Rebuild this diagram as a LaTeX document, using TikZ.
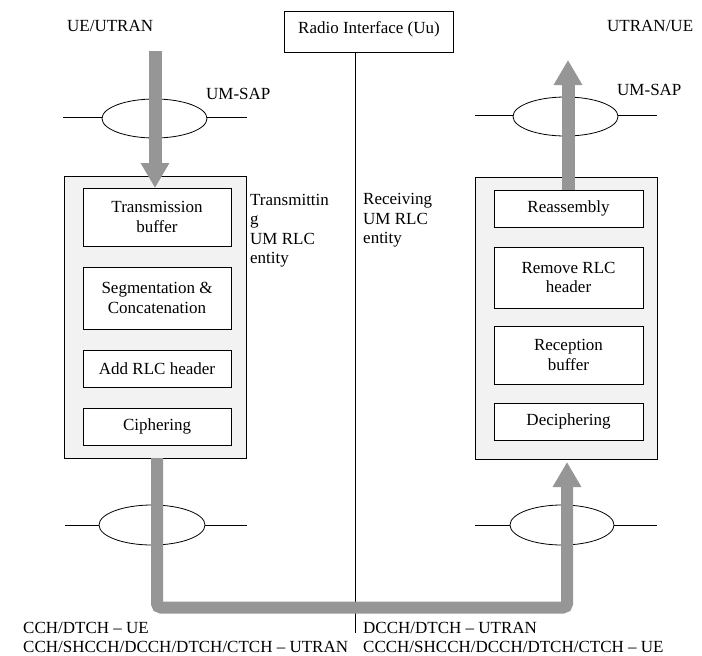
\documentclass[tikz,border=0pt]{standalone}
\usepackage{fontspec}
\setmainfont{Liberation Serif}
\usetikzlibrary{arrows.meta,shapes.geometric}
\definecolor{flow}{RGB}{150,150,150}
\definecolor{entfill}{RGB}{242,242,242}
\begin{document}
\begin{tikzpicture}[x=1pt,y=-1pt,
  every node/.style={font=\fontsize{17}{19.5}\selectfont, inner sep=0pt},
  lbl/.style={anchor=base west},
  entity/.style={draw, line width=0.8pt, fill=entfill, minimum width=182pt, minimum height=282pt},
  funbox/.style={draw, line width=0.8pt, fill=white, align=center, minimum width=148pt},
  sap/.style={draw, ellipse, line width=0.8pt, minimum width=105pt, minimum height=39pt},
  sapline/.style={line width=0.8pt},
  flowarrow/.style={draw=flow, line width=13pt, -{Triangle[width=27pt,length=25pt]}},
  flowpath/.style={draw=flow, line width=12pt, rounded corners=4pt, -{Triangle[width=27pt,length=25pt]}}
]
\useasboundingbox (0,0) rectangle (702,656);

% radio interface
\node[draw, line width=0.8pt, minimum width=169pt, minimum height=41pt] (radio) at (368.5,31.5) {};
\node[lbl] (radiotxt) at (298,33.3) {Radio Interface (Uu)};
\coordinate (uutop) at (355,52);
\coordinate (uubot) at (355,633);
\draw[line width=0.6pt] (uutop) -- (uubot);

% top labels
\node[lbl] (ueutran) at (67,31.7) {UE/UTRAN};
\node[lbl] (utranue) at (607,31.7) {UTRAN/UE};
\node[lbl] (sapL) at (206,99) {UM-SAP};
\node[lbl] (sapR) at (617,95) {UM-SAP};

% SAP ellipses
\coordinate (l1a) at (63,117); \coordinate (l1b) at (247,117);
\coordinate (r1a) at (475,115); \coordinate (r1b) at (657,115);
\coordinate (l2a) at (65,525.7); \coordinate (l2b) at (247,525.7);
\coordinate (r2a) at (475,525.7); \coordinate (r2b) at (657,525.7);
\draw[sapline] (l1a) -- (l1b);
\draw[sapline] (r1a) -- (r1b);
\draw[sapline] (l2a) -- (l2b);
\draw[sapline] (r2a) -- (r2b);
\node[sap, fill=white] (sapTL) at (154.5,118.5) {};
\node[sap, fill=white] (sapTR) at (565.5,116.5) {};
\node[sap, fill=white, minimum width=106pt, minimum height=40pt] (sapBL) at (152,525) {};
\node[sap, fill=white, minimum width=104pt, minimum height=40pt] (sapBR) at (562,525) {};

% entities
\node[entity] (tx) at (155,317) {};
\node[entity] (rx) at (566,318) {};

\node[funbox, minimum height=58pt] (tb) at (157,217) {Transmission\\buffer};
\node[funbox, minimum height=62pt] (seg) at (157,298) {Segmentation \&\\Concatenation};
\node[funbox, minimum height=37pt] (add) at (157,368.5) {Add RLC header};
\node[funbox, minimum height=37pt] (ciph) at (157,426.5) {Ciphering};

\node[funbox, minimum width=149pt, minimum height=37pt] (reas) at (568.5,208.5) {Reassembly};
\node[funbox, minimum width=149pt, minimum height=61pt] (rem) at (568.5,277.5) {Remove RLC\\header};
\node[funbox, minimum width=149pt, minimum height=58pt] (recp) at (568.5,355) {Reception\\buffer};
\node[funbox, minimum width=149pt, minimum height=37pt] (deci) at (568.5,421.5) {Deciphering};

\node[anchor=north west, align=left] (txlbl) at (250,194) {Transmittin\\g\\UM RLC\\entity};
\node[anchor=north west, align=left] (rxlbl) at (363,193.5) {Receiving\\UM RLC\\entity};

% flow arrows
\coordinate (inL) at (155,51);
\coordinate (outR) at (568,60);
\draw[flowarrow] (inL) -- (155,188);
\draw[flowarrow] (568,190) -- (outR);
\draw[flowpath] (157,458) -- (157,607.5) -- (567,607.5) -- (567,462);

% bottom labels
\node[lbl] (bl1) at (23,633.5) {CCH/DTCH – UE};
\node[lbl] (bl2) at (23,652) {CCH/SHCCH/DCCH/DTCH/CTCH – UTRAN};
\node[lbl] (br1) at (363,633.5) {DCCH/DTCH – UTRAN};
\node[lbl] (br2) at (363,652) {CCCH/SHCCH/DCCH/DTCH/CTCH – UE};
\end{tikzpicture}
\end{document}
